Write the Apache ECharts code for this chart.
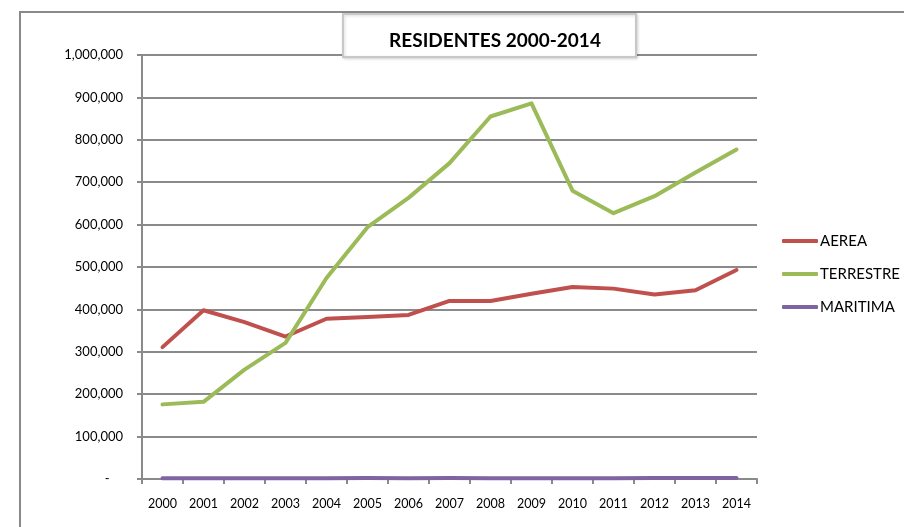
<!DOCTYPE html>
<html lang="es">
<head>
  <meta charset="UTF-8">
  <title>Residentes 2000-2014</title>
  <script src="https://cdn.jsdelivr.net/npm/echarts@6/dist/echarts.min.js"></script>
  <style>
    html, body { margin: 0; padding: 0; background: #fff; }
    #main { width: 904px; height: 527px; }
  </style>
</head>
<body>
  <div id="main"></div>
  <script>
    var years = ['2000', '2001', '2002', '2003', '2004', '2005', '2006', '2007',
      '2008', '2009', '2010', '2011', '2012', '2013', '2014']
    var aerea = [311000, 398000, 370000, 336000, 378000, 382000, 387000, 420000,
      420000, 437000, 453000, 449000, 435000, 445000, 493000]
    var terrestre = [176000, 182000, 258000, 321000, 474000, 594000, 663000, 745000,
      855000, 886000, 680000, 627000, 667000, 723000, 777000]
    var maritima = [2000, 1500, 1500, 2000, 2000, 2500, 2000, 2500,
      2000, 2000, 2000, 2000, 2500, 2500, 2500]

    var chart = echarts.init(document.getElementById('main'))
    var font = 'Lato, "Open Sans", sans-serif'

    function lineSeries(name, data, color) {
      return {
        name: name,
        type: 'line',
        data: data,
        showSymbol: false,
        symbol: 'none',
        itemStyle: { color: color },
        lineStyle: { width: 4, color: color, cap: 'round', join: 'round' },
        animation: false
      }
    }

    var option = {
      animation: false,
      title: {
        text: 'RESIDENTES 2000-2014',
        left: 490,
        top: 26,
        textAlign: 'center',
        z: 110,
        textStyle: { fontFamily: font, fontWeight: 'bold', fontSize: 19, color: '#000' }
      },
      graphic: [
        {
          type: 'rect',
          z: 0,
          shape: { x: 20, y: 12, width: 900, height: 530 },
          style: { fill: 'none', stroke: '#8a8a8a', lineWidth: 2 }
        },
        {
          type: 'rect',
          z: 100,
          shape: { x: 343, y: 14, width: 293, height: 43 },
          style: {
            fill: '#fff', stroke: '#c8c8c8', lineWidth: 2,
            shadowBlur: 3, shadowColor: 'rgba(0,0,0,0.15)', shadowOffsetX: 1, shadowOffsetY: 1
          }
        }
      ],
      legend: {
        orient: 'vertical',
        left: 777,
        top: 228,
        itemWidth: 36,
        itemHeight: 4,
        itemGap: 17,
        icon: 'roundRect',
        textStyle: { fontFamily: font, fontSize: 15, lineHeight: 16, color: '#000', padding: [0, 0, 0, -3] },
        data: ['AEREA', 'TERRESTRE', 'MARITIMA']
      },
      grid: { left: 142, right: 147, top: 55, bottom: 48, containLabel: false },
      xAxis: {
        type: 'category',
        data: years,
        boundaryGap: true,
        axisLine: { lineStyle: { color: '#8a8a8a', width: 2 } },
        axisTick: { show: true, length: 5, alignWithLabel: false, lineStyle: { color: '#8a8a8a', width: 2 } },
        axisLabel: { fontFamily: font, fontSize: 12.5, color: '#000', margin: 18 }
      },
      yAxis: {
        type: 'value',
        min: 0,
        max: 1000000,
        interval: 100000,
        axisLine: { show: true, lineStyle: { color: '#8a8a8a', width: 2 } },
        axisTick: { show: true, length: 5, lineStyle: { color: '#8a8a8a', width: 2 } },
        splitLine: { lineStyle: { color: '#8a8a8a', width: 2 } },
        axisLabel: {
          fontFamily: font,
          fontSize: 13,
          color: '#000',
          margin: 19,
          formatter: function (v) {
            return v === 0 ? '-    ' : v.toLocaleString('en-US')
          }
        }
      },
      series: [
        lineSeries('AEREA', aerea, '#C0504D'),
        lineSeries('TERRESTRE', terrestre, '#9BBB59'),
        lineSeries('MARITIMA', maritima, '#8064A2')
      ]
    }
    chart.setOption(option)
  </script>
</body>
</html>
